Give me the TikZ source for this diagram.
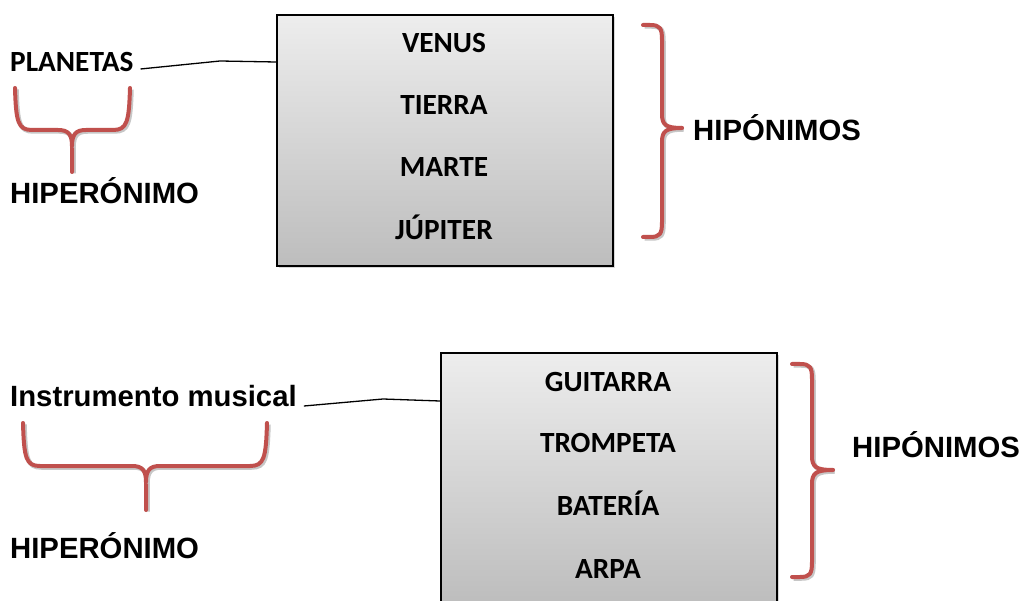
\documentclass[tikz,border=0pt]{standalone}
\usepackage{fontspec}
\newfontfamily\calib{Carlito}
\newfontfamily\arialf{Liberation Sans}
\usetikzlibrary{shadows}
\definecolor{bracered}{HTML}{C0504D}
\definecolor{boxtop}{HTML}{EDEDED}
\definecolor{boxbot}{HTML}{BDBDBD}
\tikzset{
  boxst/.style={draw=black, line width=1.6pt, top color=boxtop, bottom color=boxbot,
    minimum width=336pt, minimum height=251pt, anchor=north west, inner sep=0pt,
    drop shadow={shadow xshift=2pt, shadow yshift=-2pt, opacity=0.3}},
  item/.style={font=\calib\bfseries\fontsize{29.3}{33}\selectfont, anchor=base, inner sep=0pt},
  lab/.style={font=\arialf\bfseries\fontsize{29.3}{33}\selectfont, anchor=base west, inner sep=0pt},
  calab/.style={font=\calib\bfseries\fontsize{29.3}{33}\selectfont, anchor=base west, inner sep=0pt},
  conn/.style={draw=black, line width=1.3pt},
  brace/.style={draw=bracered, line width=4pt, line cap=round, line join=round,
    preaction={draw=black!22, line width=4.5pt, transform canvas={shift={(1.5pt,-1.5pt)}}}}
}
\begin{document}
\begin{tikzpicture}[x=1pt,y=-1pt]
\useasboundingbox (0,0) rectangle (1023,601);
\fill[white] (0,0) rectangle (1023,601);

% top group
\node[boxst] (box1) at (276,14) {};
\node[item] (venus) at (444,53) {VENUS};
\node[item] (tierra) at (444,115) {TIERRA};
\node[item] (marte) at (444,177) {MARTE};
\node[item] (jupiter) at (444,240) {JÚPITER};

\node[calab] (plan) at (10,72) {PLANETAS};
\node[lab] (hiper1) at (10,204) {HIPERÓNIMO};
\node[lab] (hipo1) at (693,141) {HIPÓNIMOS};

\coordinate (k1) at (220,61);
\draw[conn] ([shift={(7pt,3pt)}]plan.base east) -- (k1) -- ([yshift=-48pt]box1.north west);

\draw[brace] (15,88) .. controls (16,122) and (18,130) .. (32,130) -- (58,130) .. controls (68,130) and (72,134) .. (72,146) -- (72,172);
\draw[brace] (130,88) .. controls (129,122) and (127,130) .. (113,130) -- (86,130) .. controls (76,130) and (72,134) .. (72,146);

\draw[brace] (643,25) -- (650,25) .. controls (660,25) and (662,28) .. (662,40) -- (662,114) .. controls (662,125) and (666,128) .. (682,128);
\draw[brace] (643,237) -- (650,237) .. controls (660,237) and (662,234) .. (662,222) -- (662,142) .. controls (662,131) and (666,128) .. (682,128);

% bottom group
\node[boxst] (box2) at (440,352) {};
\node[item] (guitarra) at (608,392) {GUITARRA};
\node[item] (trompeta) at (608,453) {TROMPETA};
\node[item] (bateria) at (608,515) {BATERÍA};
\node[item] (arpa) at (608,578) {ARPA};

\node[lab] (instr) at (10,407) {Instrumento musical};
\node[lab] (hiper2) at (10,558) {HIPERÓNIMO};
\node[lab] (hipo2) at (852,457) {HIPÓNIMOS};

\coordinate (k2) at (383,399);
\draw[conn] ([shift={(7pt,1pt)}]instr.base east) -- (k2) -- ([yshift=-49pt]box2.north west);

\draw[brace] (23,423) .. controls (24,458) and (26,466) .. (40,466) -- (132,466) .. controls (142,466) and (146,470) .. (146,482) -- (146,510);
\draw[brace] (267,423) .. controls (266,458) and (264,466) .. (250,466) -- (160,466) .. controls (150,466) and (146,470) .. (146,482);

\draw[brace] (792,364) -- (800,364) .. controls (810,364) and (812,367) .. (812,379) -- (812,456) .. controls (812,467) and (816,470) .. (833,470);
\draw[brace] (792,577) -- (800,577) .. controls (810,577) and (812,574) .. (812,562) -- (812,484) .. controls (812,473) and (816,470) .. (833,470);
\end{tikzpicture}
\end{document}
